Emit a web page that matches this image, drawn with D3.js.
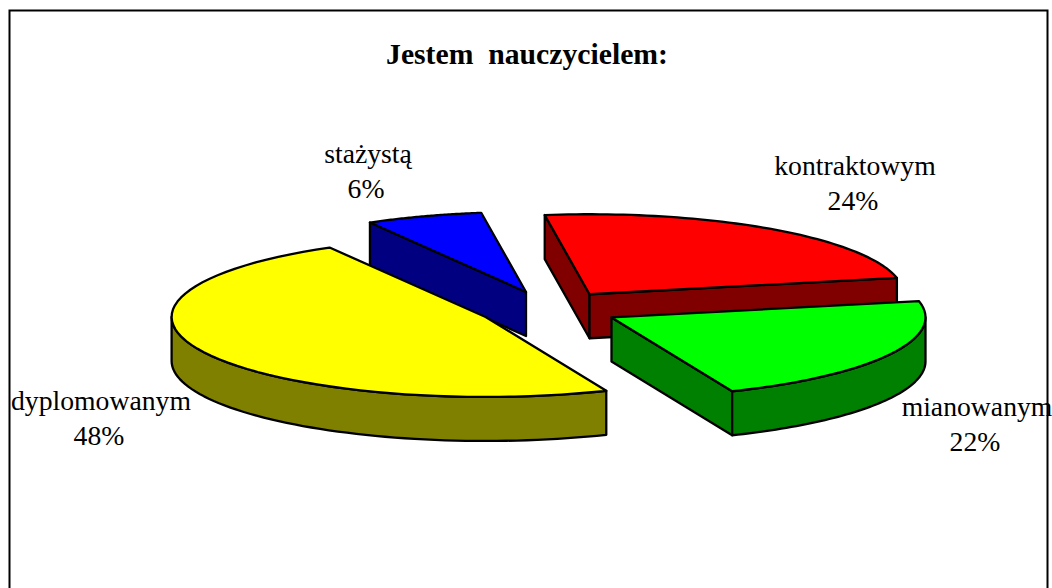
<!DOCTYPE html>
<html>
<head>
<meta charset="utf-8">
<style>
  html, body { margin: 0; padding: 0; background: #fff; overflow: hidden; }
  text { font-family: "Liberation Serif", serif; fill: #000; }
</style>
<script src="https://cdn.jsdelivr.net/npm/d3@7"></script>
</head>
<body>
<div id="chart"></div>
<script>
const title = 'Jestem  nauczycielem:'
const categories = ['kontraktowym', 'mianowanym', 'dyplomowanym', 'stażystą']
const values = [24, 22, 48, 6]
const topColors = ['#ff0000', '#00ff00', '#ffff00', '#0000ff']
const sideColors = ['#800000', '#008000', '#808000', '#000080']

const w = 1052
const h = 588
const cx = 549
const cy = 309
const rx = 314
const ry = 80
const depth = 44
const explode = 0.225
const firstAngle = -8.2 * Math.PI / 180

const labelPos = [[855, 175], [977, 416], [101, 410], [368, 163]]
const drawOrder = [3, 0, 2, 1]

const svg = d3.select('#chart').append('svg')
    .attr('width', w)
    .attr('height', h)

// frame, bottom edge runs off the picture
svg.append('rect')
    .attr('x', 9.5)
    .attr('y', 10.5)
    .attr('width', 1038)
    .attr('height', 640)
    .attr('fill', '#fff')
    .attr('stroke', '#000')
    .attr('stroke-width', 2)

const pie = d3.pie()
    .sort(null)
    .startAngle(firstAngle)
    .endAngle(firstAngle + 2 * Math.PI)

const slices = pie(values)

const xScale = d3.scaleLinear().domain([-1, 1]).range([cx - rx, cx + rx])
const yScale = d3.scaleLinear().domain([-1, 1]).range([cy - ry, cy + ry])

// angle is clockwise from 12 o'clock, same as d3.pie
const project = (a, r, mid, drop) => [
    xScale(Math.sin(a) * r + Math.sin(mid) * explode),
    yScale(-Math.cos(a) * r - Math.cos(mid) * explode) + drop
]

const arcPoints = (a0, a1, mid, drop) => d3.range(0, 61)
    .map(i => project(a0 + (a1 - a0) * i / 60, 1, mid, drop))

const closed = d3.line().curve(d3.curveLinearClosed)

const clipFront = (a0, a1) => {
    // only the part of the rim on the near side of the ellipse shows
    const lo = Math.max(a0, Math.PI / 2)
    const hi = Math.min(a1, 3 * Math.PI / 2)
    return lo < hi ? [lo, hi] : null
}

const outline = (sel) => sel
    .attr('stroke', '#000')
    .attr('stroke-width', 2.3)
    .attr('stroke-linejoin', 'round')

drawOrder.forEach(i => {
    const s = slices[i]
    const mid = (s.startAngle + s.endAngle) / 2
    const g = svg.append('g').attr('class', 'slice')
    const apex = project(0, 0, mid, 0)
    const apexLow = project(0, 0, mid, depth)

    // cut walls, only the ones facing the viewer
    const walls = []
    if (Math.sin(s.startAngle) < 0) walls.push(s.startAngle)
    if (Math.sin(s.endAngle) > 0) walls.push(s.endAngle)
    walls.forEach(a => {
        g.append('path')
            .attr('d', closed([apex, project(a, 1, mid, 0), project(a, 1, mid, depth), apexLow]))
            .attr('fill', sideColors[i])
            .call(outline)
    })

    // outer rim
    const front = clipFront(s.startAngle, s.endAngle)
    if (front) {
        const upper = arcPoints(front[0], front[1], mid, 0)
        const lower = arcPoints(front[0], front[1], mid, depth).reverse()
        g.append('path')
            .attr('d', closed(upper.concat(lower)))
            .attr('fill', sideColors[i])
            .call(outline)
    }

    // top face
    g.append('path')
        .attr('d', closed([apex].concat(arcPoints(s.startAngle, s.endAngle, mid, 0))))
        .attr('fill', topColors[i])
        .call(outline)
})

svg.append('text')
    .text(title)
    .attr('x', 527)
    .attr('y', 64)
    .attr('text-anchor', 'middle')
    .attr('font-size', 29.7)
    .attr('font-weight', 'bold')
    .style('white-space', 'pre')

categories.forEach((c, i) => {
    const t = svg.append('text')
        .attr('text-anchor', 'middle')
        .attr('font-size', 27.7)
    t.append('tspan')
        .text(c)
        .attr('x', labelPos[i][0])
        .attr('y', labelPos[i][1])
    t.append('tspan')
        .text(values[i] + '%')
        .attr('x', labelPos[i][0] - 2)
        .attr('y', labelPos[i][1] + 34.5)
})
</script>
</body>
</html>
